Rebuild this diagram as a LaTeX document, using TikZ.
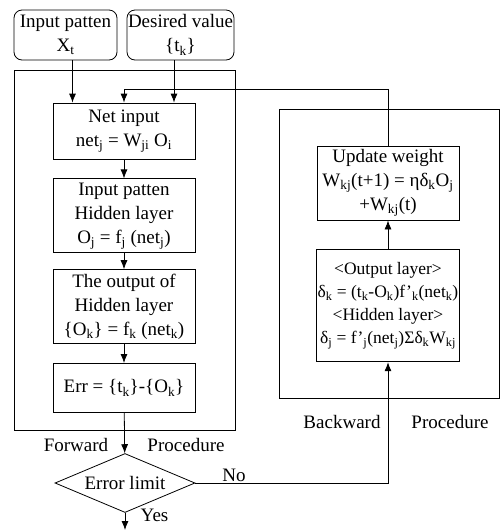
\documentclass[tikz,border=0pt]{standalone}
\usepackage{fontspec}
\setmainfont{Liberation Serif}
\usetikzlibrary{shapes.geometric,arrows.meta,positioning}

\newcommand{\sbs}[1]{\textsubscript{#1}}

\begin{document}
\begin{tikzpicture}[
    x=1pt, y=1pt,
    node distance=18pt,
    txt/.style={font=\fontsize{19}{24}\selectfont},
    frame/.style={draw, thick, inner sep=0pt},
    block/.style={draw, thick, txt, minimum width=142pt, align=center, inner sep=1pt},
    inbox/.style={block, rounded corners=8pt, minimum width=103pt, minimum height=50pt},
    decision/.style={draw, thick, diamond, txt, aspect=2.4, inner sep=0pt, minimum width=140pt, minimum height=59pt},
    arrow/.style={thick, ->, >={Latex[length=9pt,width=7pt]}}
]
    \useasboundingbox (0,0) rectangle (502,-531);

    % outer frames
    \node (fwdbox) [frame, minimum width=221pt, minimum height=360pt] at (124.5,-250) {};
    \node (bwdbox) [frame, minimum width=220pt, minimum height=289pt] at (389,-253.5) {};

    % inputs
    \node (inpat) [inbox] at (65.5,-35) {Input patten\\X\sbs{t}};
    \node (desired) [inbox] at (180.5,-35) {Desired value\\\{t\sbs{k}\}};

    % forward procedure
    \node (netin) [block, minimum height=56pt] at (124,-131) {Net input\\net\sbs{j} = W\sbs{ji} O\sbs{i}};
    \node (hidden) [block, minimum height=74pt, below=19pt of netin] {Input patten\\Hidden layer\\O\sbs{j} = f\sbs{j} (net\sbs{j})};
    \node (outk) [block, minimum height=74pt, below=16pt of hidden] {The output of\\Hidden layer\\\{O\sbs{k}\} = f\sbs{k} (net\sbs{k})};
    \node (err) [block, minimum height=49pt, below=19pt of outk] {Err = \{t\sbs{k}\}-\{O\sbs{k}\}};

    \node (decide) [decision] at (125,-483) {Error limit};
    \coordinate (fin) at (125,-530);

    % backward procedure
    \node (update) [block, minimum height=74pt] at (388,-183) {Update weight\\W\sbs{kj}(t+1) = ηδ\sbs{k}O\sbs{j}\\+W\sbs{kj}(t)};
    \node (delta) [block, minimum height=112pt, below=29pt of update, font=\fontsize{17.5}{23}\selectfont] {\textless Output layer\textgreater\\δ\sbs{k} = (t\sbs{k}-O\sbs{k})f'\sbs{k}(net\sbs{k})\\\textless Hidden layer\textgreater\\δ\sbs{j} = f'\sbs{j}(net\sbs{j})Σδ\sbs{k}W\sbs{kj}};

    % labels
    \node (fwdl) [txt] at (76,-445) {Forward};
    \node (fwdr) [txt] at (186,-445) {Procedure};
    \node (bwdl) [txt] at (342,-422) {Backward};
    \node (bwdr) [txt] at (450,-422) {Procedure};

    \draw [arrow] ([xshift=7pt]inpat.south) -- ([xshift=7pt]inpat.south |- netin.north);
    \draw [arrow] ([xshift=-6.5pt]desired.south) -- ([xshift=-6.5pt]desired.south |- netin.north);
    \draw [arrow] (update.north) |- ([yshift=13pt]netin.north) -- (netin.north);
    \draw [arrow] (netin) -- (hidden);
    \draw [arrow] (hidden) -- (outk);
    \draw [arrow] (outk) -- (err);
    \draw [arrow] (err) -- (decide);
    \draw [arrow] (decide.east) -| node [txt, pos=0.1, above, inner sep=1pt] {No} (delta.south);
    \draw [arrow] (delta) -- (update);
    \draw [arrow] (decide.south) -- node [txt, right=12pt, pos=0.15] {Yes} (fin);
\end{tikzpicture}
\end{document}
